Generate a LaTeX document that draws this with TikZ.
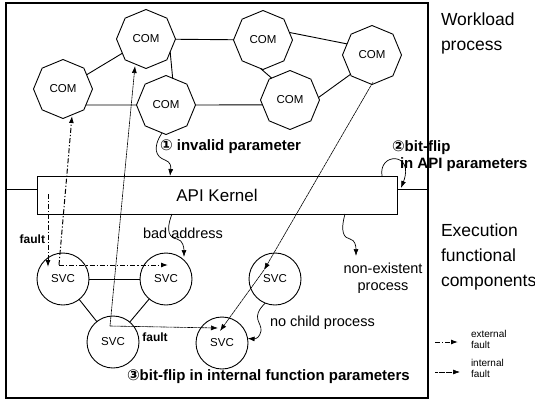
\documentclass[tikz,border=0pt]{standalone}
\usepackage{fontspec}
\setmainfont{Liberation Sans}
\newfontfamily\djv{DejaVu Sans}
\usetikzlibrary{shapes.geometric,arrows.meta}
\begin{document}
\begin{tikzpicture}[x=1pt,y=-1pt,
 every node/.style={inner sep=0pt, outer sep=0pt},
 com/.style={draw, line width=0.9pt, regular polygon, regular polygon sides=8, shape border rotate=22.5, minimum size=59pt, font=\fontsize{11.5}{12}\selectfont},
 svc/.style={draw, line width=0.9pt, circle, minimum size=52pt, font=\fontsize{11.5}{12}\selectfont},
 tip/.style={-{Latex[length=7pt,width=5pt]}},
 ext/.style={line width=1pt, dash pattern=on 5pt off 2pt on 1.2pt off 2pt, tip},
 intf/.style={line width=0.6pt, dash pattern=on 3pt off 0.5pt, tip},
 wav/.style={line width=0.7pt, tip},
 edge/.style={line width=0.9pt},
 lbl/.style={font=\fontsize{14.5}{17}\selectfont, align=center},
 blbl/.style={font=\bfseries\fontsize{15}{17}\selectfont, anchor=west},
 big/.style={font=\fontsize{17.5}{25}\selectfont, align=left, anchor=west},
 leg/.style={font=\fontsize{10}{11}\selectfont, align=left, anchor=west},
]
\useasboundingbox (0,0) rectangle (535,410);
% frame and API kernel
\node[draw, line width=1.1pt, minimum width=422pt, minimum height=395pt, anchor=north west] (frame) at (6,3) {};
\node[draw, line width=1pt, minimum width=360pt, minimum height=38pt, font=\fontsize{17}{19}\selectfont] (api) at (217,195) {API Kernel};
\coordinate (sepL) at (6,189);
\coordinate (sepR) at (428,189);
\draw[line width=1pt] (sepL) -- (sepL -| api.west);
\draw[line width=1pt] (api.east |- sepR) -- (sepR);
% COM nodes
\node[com] (m1) at (63,89) {COM};
\node[com] (m2) at (146,39) {COM};
\node[com] (m3) at (166,105) {COM};
\node[com] (m4) at (263,40) {COM};
\node[com] (m5) at (290,100) {COM};
\node[com] (m6) at (372,55) {COM};
\draw[edge] (m1) -- (m2);
\draw[edge] (m2) -- (m4);
\draw[edge] (m2.-28) -- (m3.76);
\draw[edge] (m1.-35) -- (m3.180);
\draw[edge] (m3.0) -- (m5.190);
\draw[edge] (m4.-95) -- (m5.130);
\draw[edge] (m4.16) -- (m6.156);
\draw[edge] (m5.5) -- (m6.-138);
% SVC nodes
\node[svc] (s1) at (63,279) {SVC};
\node[svc] (s2) at (166,279) {SVC};
\node[svc] (s3) at (113,342) {SVC};
\node[svc] (s4) at (222,343) {SVC};
\node[svc] (s5) at (275,279) {SVC};
\draw[edge] (s1) -- (s2);
\draw[edge] (s1) -- (s3);
\draw[edge] (s2) -- (s3);
% external faults
\coordinate (fa) at (48,194);
\coordinate (fb) at (48,267);
\draw[ext] (fa) -- (fb);
\coordinate (c1) at (59,265);
\coordinate (e1) at (72,116);
\coordinate (e2) at (168,265);
\draw[ext] (c1) -- (e1);
\draw[ext] (c1) -- (e2);
% internal faults
\coordinate (c3) at (110,326);
\coordinate (i1) at (135,66);
\coordinate (i2) at (218,328);
\draw[intf] (c3) -- (i1);
\draw[intf] (c3) -- (i2);
\coordinate (p4) at (220,331);
\coordinate (p5) at (264,270);
\coordinate (p6) at (373,82);
\draw[intf] (p5) -- (p4);
\draw[intf, {Latex[length=7pt,width=5pt]}-] (p5) -- (p6);
% wavy arrows
\coordinate (w1e) at (170,176);
\draw[wav] (m3.-98) .. controls (152,148) and (156,157) .. (165,160) .. controls (171,162) and (171,167) .. (w1e);
\coordinate (w2s) at (382,176);
\coordinate (w2e) at (401,188);
\draw[wav] (w2s) .. controls (378,152) and (415,152) .. (w2e);
\coordinate (w3s) at (172,214);
\coordinate (w3e) at (184,257);
\draw[wav] (w3s) .. controls (165,232) and (170,238) .. (177,239) .. controls (183,240) and (184,248) .. (w3e);
\coordinate (w4s) at (345,214);
\coordinate (w4e) at (356,256);
\draw[wav] (w4s) .. controls (340,232) and (344,238) .. (350,239) .. controls (355,240) and (356,246) .. (w4e);
\draw[wav] (s5.-112) .. controls (250,318) and (262,322) .. (261,331) .. controls (260,337) and (256,339) .. (s4.10);
% labels
\node[blbl] (t1) at (160,147) {{\djv ①} invalid parameter};
\node[blbl] (t2) at (392,148) {{\djv ②}bit-flip};
\node[blbl] (t2b) at (400,165) {in API parameters};
\node[blbl] (t3) at (127,377) {{\djv ③}bit-flip in internal function parameters};
\node[font=\bfseries\fontsize{12}{13}\selectfont, anchor=east] (f1) at (45,239) {fault};
\node[font=\bfseries\fontsize{12}{13}\selectfont] (f2) at (155,337) {fault};
\node[lbl] (ba) at (183,233) {bad address};
\node[lbl] (ne) at (383,278) {non-existent\\process};
\node[lbl, anchor=west] (nc) at (270,323) {no child process};
\node[big] (wp) at (441,33) {Workload\\process};
\node[big] (ef) at (441,257) {Execution\\functional\\components};
% legend
\coordinate (l1a) at (435,342);
\coordinate (l1b) at (458,342);
\draw[ext] (l1a) -- (l1b);
\node[leg] (le) at (471,339) {external\\fault};
\coordinate (l2a) at (435,372);
\coordinate (l2b) at (460,372);
\draw[intf] (l2a) -- (l2b);
\node[leg] (li) at (471,368) {internal\\fault};
\end{tikzpicture}
\end{document}
